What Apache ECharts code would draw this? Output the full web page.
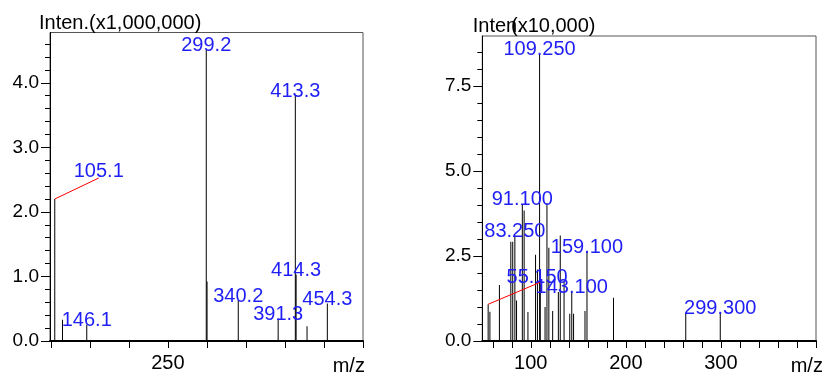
<!DOCTYPE html>
<html>
<head>
<meta charset="utf-8">
<script src="https://cdn.jsdelivr.net/npm/echarts@6/dist/echarts.min.js"></script>
<style>
html, body { margin: 0; padding: 0; background: #fff; }
#chart { width: 822px; height: 373px; }
</style>
</head>
<body>
<div id="chart"></div>
<script>
// left spectrum, intensity x1,000,000
var leftMz = [105.1, 115.0, 146.1, 299.2, 300.2, 340.2, 391.3, 413.3, 414.3, 428.3, 454.3];
var leftInten = [2.20, 0.33, 0.25, 4.51, 0.92, 0.63, 0.35, 3.81, 1.03, 0.23, 0.58];
var leftLabeled = [105.1, 146.1, 299.2, 340.2, 391.3, 413.3, 414.3, 454.3];
var leftYTicks = [0, 1, 2, 3, 4];
var leftXTicks = [100, 150, 200, 250, 300, 350, 400, 450, 500];
var leftXLabels = [250];

// right spectrum, intensity x10,000
var rightMz = [55.15, 57, 67, 79, 81, 83.25, 85, 91.1, 93, 97, 105, 107, 109.25, 110, 115, 117, 119, 123,
    129, 131, 135, 141, 143.1, 145, 157, 159.1, 187, 263, 299.3];
var rightInten = [1.08, 0.86, 1.65, 2.92, 2.92, 3.10, 1.19, 4.03, 3.84, 0.85, 2.54, 2.10, 8.46, 1.70, 1.00, 4.05, 2.74, 0.88,
    1.44, 3.10, 1.75, 0.80, 1.45, 0.80, 0.88, 2.63, 1.27, 0.80, 0.85];
var rightLabeled = [55.15, 83.25, 91.1, 109.25, 143.1, 159.1, 299.3];
var rightYTicks = [0, 2.5, 5, 7.5];
var rightXTicks = [60, 80, 100, 120, 140, 160, 180, 200, 220, 240, 260, 280, 300, 320, 340, 360, 380, 400];
var rightXLabels = [100, 200, 300];

var FONT = '"Liberation Sans", Arial, sans-serif';
var BLUE = '#1e1ef5';

function minorOf(ticks, step, max) {
    var out = [];
    for (var v = step; v < max; v += step) {
        v = Math.round(v * 1000) / 1000;
        if (ticks.indexOf(v) < 0) out.push(v);
    }
    return out;
}

function peakData(mz, inten, labeled, digits, leaderMz, leaderOffset) {
    return mz.map(function (x, i) {
        var item = { value: [x, inten[i]] };
        if (labeled.indexOf(x) >= 0) {
            item.label = {
                show: true,
                formatter: x.toFixed(digits),
                offset: x === leaderMz ? leaderOffset : [0, 6]
            };
        }
        return item;
    });
}

function xAxisOf(grid, min, max, ticks, labels) {
    return {
        type: 'value', gridIndex: grid, min: min, max: max,
        axisLine: { show: true, lineStyle: { color: '#000', width: 2 } },
        axisTick: { show: true, length: 7, customValues: ticks, lineStyle: { color: '#000' } },
        axisLabel: { customValues: labels, margin: 12, color: '#000', fontSize: 20, fontFamily: FONT },
        splitLine: { show: false }
    };
}

function yAxisOf(grid, max, ticks) {
    return {
        type: 'value', gridIndex: grid, position: 'left', min: 0, max: max,
        axisLine: { show: true, lineStyle: { color: '#000', width: 1 } },
        axisTick: { show: true, length: 9, customValues: ticks, lineStyle: { color: '#000' } },
        axisLabel: {
            customValues: ticks, margin: 11, color: '#000', fontSize: 19, fontFamily: FONT,
            formatter: function (v) { return v.toFixed(1); }
        },
        splitLine: { show: false }
    };
}

function yMinorOf(grid, max, minor) {
    return {
        type: 'value', gridIndex: grid, position: 'left', offset: 0, min: 0, max: max,
        axisLine: { show: false },
        axisTick: { show: true, length: 5, customValues: minor, lineStyle: { color: '#000' } },
        axisLabel: { show: false },
        splitLine: { show: false }
    };
}

var leftMax = 4.78, rightMax = 8.97;

var chart = echarts.init(document.getElementById('chart'));
var option = {
    animation: false,
    backgroundColor: '#fff',
    grid: [
        { left: 50, top: 32.5, width: 313, height: 308.5, show: true, borderColor: '#555', borderWidth: 1, backgroundColor: 'transparent' },
        { left: 482.3, top: 36, width: 333.7, height: 306.3, show: true, borderColor: '#555', borderWidth: 1, backgroundColor: 'transparent' }
    ],
    xAxis: [
        xAxisOf(0, 99, 500, leftXTicks, leftXLabels),
        xAxisOf(1, 49, 400, rightXTicks, rightXLabels)
    ],
    yAxis: [
        yAxisOf(0, leftMax, leftYTicks),
        yAxisOf(1, rightMax, rightYTicks),
        yMinorOf(0, leftMax, minorOf(leftYTicks, 0.2, leftMax)),
        yMinorOf(1, rightMax, minorOf(rightYTicks, 0.5, rightMax))
    ],
    series: [
        {
            type: 'bar', xAxisIndex: 0, yAxisIndex: 0, barWidth: 1,
            itemStyle: { color: '#000' },
            label: { position: 'top', distance: 0, color: BLUE, fontSize: 20, fontFamily: FONT },
            data: peakData(leftMz, leftInten, leftLabeled, 1, 105.1, [44, -18])
        },
        {
            type: 'bar', xAxisIndex: 1, yAxisIndex: 1, barWidth: 1,
            itemStyle: { color: '#000' },
            label: { position: 'top', distance: 0, color: BLUE, fontSize: 20, fontFamily: FONT },
            data: peakData(rightMz, rightInten, rightLabeled, 3, 55.15, [49, -17])
        }
    ]
};
chart.setOption(option);

// red leader lines from the peak top to its shifted label
function leader(grid, mz, inten, dx, dy) {
    var p = chart.convertToPixel({ gridIndex: grid }, [mz, inten]);
    return {
        type: 'line', z: 20,
        shape: { x1: p[0], y1: p[1], x2: p[0] + dx, y2: p[1] + dy },
        style: { stroke: '#ff0000', lineWidth: 1 }
    };
}

function txt(x, y, s) {
    return {
        type: 'text', z: 20, x: x, y: y,
        style: { text: s, font: '20px ' + FONT, fill: '#000', textAlign: 'left', textVerticalAlign: 'middle', align: 'left', verticalAlign: 'middle' }
    };
}

chart.setOption({
    graphic: [
        leader(0, 105.1, leftInten[0], 44, -21),
        leader(1, 55.15, rightInten[0], 52, -22),
        txt(39, 23, 'Inten.(x1,000,000)'),
        txt(472.7, 26, 'Inten.'),
        txt(511, 26, '(x10,000)'),
        txt(332.7, 366, 'm/z'),
        txt(790.7, 366, 'm/z')
    ]
});
</script>
</body>
</html>
